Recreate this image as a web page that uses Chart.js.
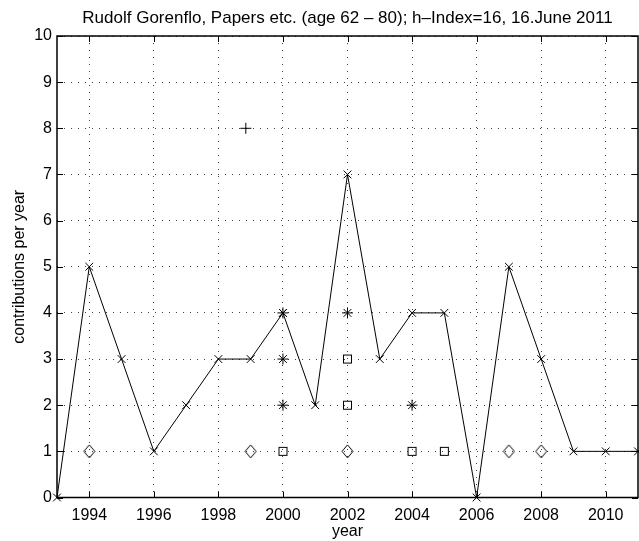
<!DOCTYPE html>
<html>
<head>
<meta charset="utf-8">
<script src="https://cdn.jsdelivr.net/npm/chart.js@4"></script>
<style>
html,body{margin:0;padding:0;background:#fff;overflow:hidden;}
#wrap{width:645px;height:541px;}
</style>
</head>
<body>
<div id="wrap"><canvas id="c" width="645" height="541"></canvas></div>
<script>
// ---- data ----
const years = [1993,1994,1995,1996,1997,1998,1999,2000,2001,2002,2003,2004,2005,2006,2007,2008,2009,2010,2011];
const totals = [0,5,3,1,2,3,3,4,2,7,3,4,4,0,5,3,1,1,1];
const plusX = [1998.85];
const plusY = [8];
const starX = [2000,2000,2000,2002,2004];
const starY = [2,3,4,4,2];
const squareX = [2000,2002,2002,2004,2005];
const squareY = [1,2,3,1,1];
const diamondX = [1994,1999,2002,2007,2008];
const diamondY = [1,1,1,1,1];
const xTickYears = [1994,1996,1998,2000,2002,2004,2006,2008,2010];
const yTickValues = [0,1,2,3,4,5,6,7,8,9,10];
const titleText = 'Rudolf Gorenflo, Papers etc. (age 62 \u2013 80); h\u2013Index=16, 16.June 2011';
const xTitle = 'year';
const yTitle = 'contributions per year';

const FONT = '"Liberation Sans", Arial, Helvetica, sans-serif';

function pts(xs, ys){ return xs.map((x,i)=>({x:x, y:ys[i]})); }

function diamondImg(){
  const c = document.createElement('canvas');
  c.width = 13; c.height = 15;
  const g = c.getContext('2d');
  g.strokeStyle = '#000'; g.lineWidth = 1;
  g.beginPath();
  g.moveTo(6.5, 1); g.lineTo(12, 7.5); g.lineTo(6.5, 14); g.lineTo(1, 7.5); g.closePath();
  g.stroke();
  return c;
}
function squareImg(){
  const c = document.createElement('canvas');
  c.width = 11; c.height = 11;
  const g = c.getContext('2d');
  g.strokeStyle = '#000'; g.lineWidth = 1;
  g.strokeRect(1.5, 1.5, 8, 8);
  return c;
}

const boxPlugin = {
  id: 'box',
  afterDatasetsDraw(chart){
    const {ctx, chartArea:a, scales} = chart;
    ctx.save();
    ctx.strokeStyle = '#000';
    ctx.lineWidth = 1;
    const tl = 6;
    ctx.beginPath();
    xTickYears.forEach(v=>{
      const px = Math.round(scales.x.getPixelForValue(v)) + 0.5;
      ctx.moveTo(px, a.bottom); ctx.lineTo(px, a.bottom - tl);
      ctx.moveTo(px, a.top); ctx.lineTo(px, a.top + tl);
    });
    yTickValues.forEach(v=>{
      const py = Math.round(scales.y.getPixelForValue(v)) + 0.5;
      ctx.moveTo(a.left, py); ctx.lineTo(a.left + tl, py);
      ctx.moveTo(a.right, py); ctx.lineTo(a.right - tl, py);
    });
    ctx.stroke();
    ctx.lineWidth = 1.5;
    ctx.strokeRect(a.left, a.top, a.right - a.left, a.bottom - a.top);
    ctx.restore();
  }
};

new Chart(document.getElementById('c'), {
  type: 'scatter',
  data: {
    datasets: [
      {
        label: 'total',
        data: pts(years, totals),
        showLine: true,
        borderColor: '#000',
        borderWidth: 1,
        pointStyle: 'crossRot',
        pointRadius: 5.5,
        pointBorderColor: '#000',
        pointBorderWidth: 1,
        backgroundColor: 'transparent',
        clip: false
      },
      {
        label: 'plus',
        data: pts(plusX, plusY),
        pointStyle: 'cross',
        pointRadius: 5.5,
        pointBorderColor: '#000',
        pointBorderWidth: 1
      },
      {
        label: 'star',
        data: pts(starX, starY),
        pointStyle: 'star',
        pointRadius: 5.5,
        pointBorderColor: '#000',
        pointBorderWidth: 1
      },
      {
        label: 'square',
        data: pts(squareX, squareY),
        pointStyle: squareImg(),
        pointRadius: 5
      },
      {
        label: 'diamond',
        data: pts(diamondX, diamondY),
        pointStyle: diamondImg(),
        pointRadius: 6
      }
    ]
  },
  options: {
    responsive: false,
    animation: false,
    events: [],
    layout: { padding: { left: 0, right: 2, top: 0, bottom: 0 } },
    plugins: {
      legend: { display: false },
      tooltip: { enabled: false },
      title: {
        display: true,
        fullSize: false,
        text: titleText,
        color: '#000',
        font: { family: FONT, size: 17, weight: 'normal', lineHeight: 1.2 },
        padding: { top: 8, bottom: 7.6 }
      }
    },
    scales: {
      x: {
        type: 'linear',
        min: 1993, max: 2011,
        afterBuildTicks(s){ s.ticks = xTickYears.map(v=>({value:v})); },
        afterFit(s){ s.height = 43.5; },
        ticks: {
          color: '#000',
          font: { family: FONT, size: 16 },
          padding: 8,
          maxRotation: 0,
          autoSkip: false,
          callback: v => String(v)
        },
        grid: { color: 'rgba(0,0,0,0.75)', lineWidth: 1, drawTicks: false },
        border: { display: false, dash: [1, 6] },
        title: {
          display: true, text: xTitle, color: '#000',
          font: { family: FONT, size: 16 }, padding: { top: 1, bottom: 0 }
        }
      },
      y: {
        type: 'linear',
        min: 0, max: 10,
        afterBuildTicks(s){ s.ticks = yTickValues.map(v=>({value:v})); },
        afterFit(s){ s.width = 57; },
        ticks: {
          color: '#000',
          font: { family: FONT, size: 16 },
          padding: 5,
          autoSkip: false
        },
        grid: { color: 'rgba(0,0,0,0.75)', lineWidth: 1, drawTicks: false },
        border: { display: false, dash: [1, 6] },
        title: {
          display: true, text: yTitle, color: '#000',
          font: { family: FONT, size: 16 }, padding: { top: 10, bottom: 4 }
        }
      }
    }
  },
  plugins: [boxPlugin]
});
</script>
</body>
</html>
